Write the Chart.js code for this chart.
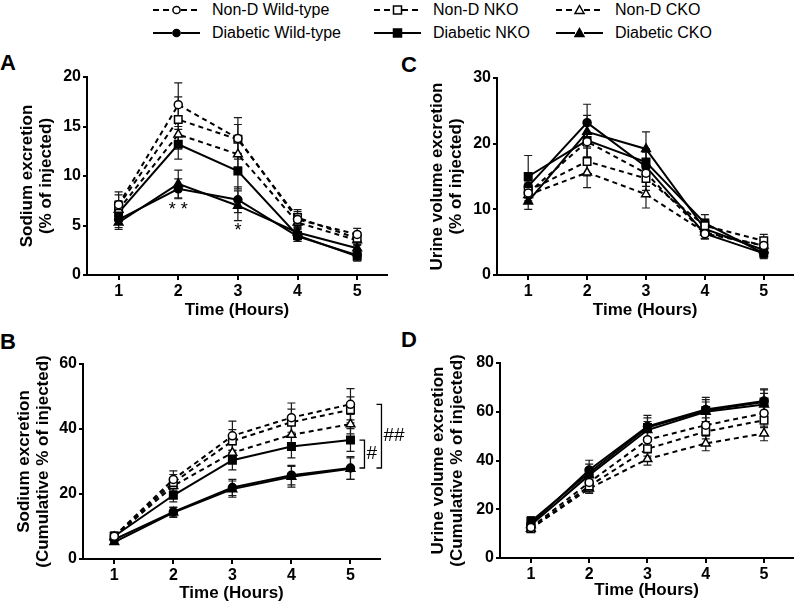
<!DOCTYPE html>
<html>
<head>
<meta charset="utf-8">
<script src="https://cdn.jsdelivr.net/npm/chart.js@4.4.1/dist/chart.umd.min.js"></script>
<style>
body{margin:0;background:#fff;width:800px;height:605px;position:relative;overflow:hidden;font-family:"Liberation Sans",Arial,sans-serif;color:#000;}
.panel{position:absolute;}
.letra{position:absolute;font-weight:bold;font-size:22px;line-height:22px;}
.ley{position:absolute;font-size:16px;line-height:20px;display:flex;align-items:center;white-space:nowrap;}
.ley svg{margin-right:12px;}
</style>
</head>
<body>
<div id="leyenda"></div>
<div class="letra" style="left:0;top:52px">A</div>
<div class="letra" style="left:401px;top:54px">C</div>
<div class="letra" style="left:0;top:331px">B</div>
<div class="letra" style="left:401px;top:329px">D</div>
<div class="panel" style="left:0;top:45px"><canvas id="graficoA" width="400" height="275"></canvas></div>
<div class="panel" style="left:400px;top:45px"><canvas id="graficoC" width="400" height="275"></canvas></div>
<div class="panel" style="left:0;top:320px"><canvas id="graficoB" width="420" height="285"></canvas></div>
<div class="panel" style="left:400px;top:320px"><canvas id="graficoD" width="400" height="285"></canvas></div>
<script>
// datos
const horas = [1, 2, 3, 4, 5];
const grupos = ['Non-D Wild-type', 'Non-D NKO', 'Non-D CKO', 'Diabetic Wild-type', 'Diabetic NKO', 'Diabetic CKO'];

// A: sodio por hora (% of injected) - media y EEM, mismo orden que grupos
const sodioHora = [
    [7.1, 17.2, 13.8, 5.6, 4.1],
    [7.0, 15.7, 13.7, 5.8, 3.7],
    [6.6, 14.2, 12.2, 5.3, 3.5],
    [5.6, 8.7, 7.6, 3.9, 2.0],
    [6.3, 13.2, 10.5, 4.0, 1.9],
    [5.3, 9.2, 7.0, 4.3, 2.7]
];
const sodioHoraEem = [
    [1.3, 2.2, 2.1, 0.8, 0.6],
    [1.1, 2.3, 1.5, 0.8, 0.6],
    [0.9, 1.5, 1.3, 0.6, 0.5],
    [0.8, 1.0, 1.3, 0.5, 0.4],
    [0.7, 1.5, 1.8, 0.6, 0.5],
    [0.7, 1.4, 1.5, 0.6, 0.4]
];

// B: sodio acumulado
const sodioAcum = [
    [7.0, 24.5, 37.9, 43.5, 47.6],
    [7.0, 23.5, 36.3, 42.1, 45.9],
    [6.8, 22.5, 32.7, 38.2, 41.5],
    [6.0, 14.5, 22.0, 25.8, 28.0],
    [7.0, 19.6, 30.4, 34.6, 36.6],
    [5.2, 14.3, 21.5, 25.3, 27.8]
];
const sodioAcumEem = [
    [1.3, 2.6, 4.5, 4.5, 4.8],
    [1.1, 2.5, 3.5, 4.0, 4.0],
    [0.9, 2.0, 2.5, 3.0, 3.0],
    [0.8, 1.5, 2.5, 3.0, 3.5],
    [0.7, 2.0, 3.0, 3.5, 3.5],
    [0.7, 1.5, 2.5, 3.2, 3.3]
];

// C: volumen de orina por hora
const orinaHora = [
    [12.5, 20.3, 15.5, 6.3, 4.5],
    [12.8, 17.3, 14.7, 7.5, 5.2],
    [12.2, 15.6, 12.3, 6.5, 4.5],
    [13.5, 23.2, 16.5, 6.3, 3.3],
    [15.0, 20.5, 17.2, 7.9, 3.3],
    [11.2, 21.8, 19.2, 7.0, 3.8]
];
const orinaHoraEem = [
    [1.5, 2.6, 2.0, 0.8, 0.8],
    [1.5, 2.2, 1.8, 1.0, 1.0],
    [1.3, 2.3, 2.1, 0.9, 0.8],
    [1.8, 2.8, 2.2, 0.8, 0.6],
    [3.2, 2.5, 2.0, 1.3, 0.8],
    [1.2, 2.5, 2.6, 1.0, 0.7]
];

// D: volumen de orina acumulado
const orinaAcum = [
    [12.5, 31.0, 48.5, 54.5, 59.4],
    [12.0, 29.5, 44.8, 51.9, 56.5],
    [12.0, 28.5, 40.6, 47.0, 51.1],
    [14.0, 36.1, 54.0, 60.9, 64.4],
    [15.0, 35.0, 53.5, 60.5, 64.0],
    [13.5, 34.0, 52.5, 60.0, 63.0]
];
const orinaAcumEem = [
    [1.5, 2.5, 3.5, 3.0, 3.5],
    [1.5, 2.5, 3.0, 3.0, 3.0],
    [1.3, 2.0, 2.5, 3.0, 3.0],
    [3.0, 4.0, 4.5, 5.0, 5.0],
    [2.0, 3.5, 4.0, 4.5, 5.0],
    [2.0, 3.0, 3.5, 4.0, 4.5]
];

// estilo de cada grupo
const formas = ['circle', 'rect', 'triangle', 'circle', 'rect', 'triangle'];
const radios = {circle: 4, rect: 5.3, triangle: 5};
const esNoDiabetico = (i) => i < 3;

//! leyenda en html
const leyenda = document.getElementById('leyenda');
const colX = [153, 374, 556];
const filaY = [0, 23];
grupos.forEach((nombre, i) => {
    const col = i % 3;
    const fila = Math.floor(i / 3);
    const relleno = esNoDiabetico(i) ? '#fff' : '#000';
    const raya = esNoDiabetico(i) ? 'stroke-dasharray="6 4"' : '';
    let marca = '';
    if (formas[i] == 'circle') {
        marca = `<circle cx="23.5" cy="7" r="3.6" fill="${relleno}" stroke="#000" stroke-width="1.5"/>`;
    } else if (formas[i] == 'rect') {
        marca = `<rect x="19.5" y="3" width="8" height="8" fill="${relleno}" stroke="#000" stroke-width="1.5"/>`;
    } else {
        marca = `<polygon points="23.5,2.5 28,10.5 19,10.5" fill="${relleno}" stroke="#000" stroke-width="1.5"/>`;
    }
    const div = document.createElement('div');
    div.className = 'ley';
    div.style.left = colX[col] + 'px';
    div.style.top = filaY[fila] + 'px';
    div.innerHTML = `<svg width="47" height="14">
        <line x1="0" y1="7" x2="19" y2="7" stroke="#000" stroke-width="2" ${raya}/>
        <line x1="28" y1="7" x2="47" y2="7" stroke="#000" stroke-width="2" ${raya}/>
        ${marca}</svg><span>${nombre}</span>`;
    leyenda.appendChild(div);
});

//! barras de error (media +- EEM)
const barrasError = {
    id: 'barrasError',
    beforeDatasetsDraw(chart) {
        const {ctx, scales: {x, y}} = chart;
        ctx.save();
        ctx.strokeStyle = '#1a1a1a';
        ctx.lineWidth = 1.2;
        chart.data.datasets.forEach((ds) => {
            ds.data.forEach((p, k) => {
                const e = ds.eem[k];
                const px = x.getPixelForValue(p.x);
                const arriba = y.getPixelForValue(p.y + e);
                const abajo = y.getPixelForValue(p.y - e);
                ctx.beginPath();
                ctx.moveTo(px, arriba); ctx.lineTo(px, abajo);
                ctx.moveTo(px - 4, arriba); ctx.lineTo(px + 4, arriba);
                ctx.moveTo(px - 4, abajo); ctx.lineTo(px + 4, abajo);
                ctx.stroke();
            });
        });
        ctx.restore();
    }
};

//* asteriscos y corchetes de significancia
const notas = {
    id: 'notas',
    afterDatasetsDraw(chart, args, opts) {
        const {ctx, scales: {x, y}} = chart;
        ctx.save();
        ctx.fillStyle = '#000';
        ctx.strokeStyle = '#000';
        (opts.textos || []).forEach((t) => {
            ctx.font = t.fuente;
            ctx.textAlign = 'center';
            ctx.textBaseline = 'middle';
            ctx.fillText(t.texto, x.getPixelForValue(t.x), y.getPixelForValue(t.y));
        });
        (opts.corchetes || []).forEach((c) => {
            const bx = x.getPixelForValue(c.x) + c.dx;
            const y1 = y.getPixelForValue(c.desde);
            const y2 = y.getPixelForValue(c.hasta);
            ctx.lineWidth = 1.3;
            ctx.beginPath();
            ctx.moveTo(bx - 5, y1); ctx.lineTo(bx, y1); ctx.lineTo(bx, y2); ctx.lineTo(bx - 5, y2);
            ctx.stroke();
            ctx.font = '19px "Liberation Sans", Arial';
            ctx.textAlign = 'left';
            ctx.textBaseline = 'middle';
            ctx.fillText(c.texto, bx + 2, (y1 + y2) / 2);
        });
        ctx.restore();
    }
};

const fuenteEje = {family: '"Liberation Sans", Arial', weight: 'bold', size: 16};
const fuenteTitulo = {family: '"Liberation Sans", Arial', weight: 'bold', size: 17, lineHeight: 1.13};
const mediaLinea = 17 * 1.13 / 2;

// caja: posicion del canvas; area: rectangulo de ejes en la pagina
function hacerGrafico(id, caja, area, valores, eem, yMax, paso, tituloY, tituloX1, notasPanel) {
    const datasets = [];
    for (let i = grupos.length - 1; i >= 0; i--) {
        datasets.push({
            label: grupos[i],
            data: horas.map((h, k) => ({x: h, y: valores[i][k]})),
            eem: eem[i],
            borderColor: '#000',
            borderWidth: 2,
            borderDash: esNoDiabetico(i) ? [5, 4] : [],
            pointStyle: formas[i],
            pointRadius: radios[formas[i]],
            pointBorderWidth: 1.5,
            pointBorderColor: '#000',
            pointBackgroundColor: esNoDiabetico(i) ? '#fff' : '#000',
            fill: false,
            tension: 0
        });
    }
    // los no diabeticos se dibujan despues (encima)
    datasets.reverse();

    const anchoY = area.left - caja.left;
    const altoX = caja.top + caja.h - area.bottom;
    return new Chart(document.getElementById(id), {
        type: 'line',
        data: {datasets: datasets},
        options: {
            responsive: false,
            animation: false,
            devicePixelRatio: 1,
            layout: {padding: {left: 0, top: area.top - caja.top, right: caja.left + caja.w - area.right, bottom: 0}},
            plugins: {
                legend: {display: false},
                tooltip: {enabled: false},
                notas: notasPanel
            },
            scales: {
                x: {
                    type: 'linear',
                    min: 0.47,
                    max: 5.5,
                    afterBuildTicks: (s) => { s.ticks = horas.map((h) => ({value: h})); },
                    afterFit: (s) => { s.height = altoX; },
                    ticks: {color: '#000', font: fuenteEje, padding: 2},
                    grid: {display: true, drawOnChartArea: false, drawTicks: true, tickLength: 5, color: '#000', lineWidth: 2},
                    border: {display: true, color: '#000', width: 2},
                    title: {display: true, text: 'Time (Hours)', color: '#000', font: fuenteTitulo,
                        padding: {top: 0, bottom: altoX - tituloX1 - mediaLinea}}
                },
                y: {
                    min: 0,
                    max: yMax,
                    afterFit: (s) => { s.width = anchoY; },
                    ticks: {stepSize: paso, color: '#000', font: fuenteEje, padding: 2},
                    grid: {display: true, drawOnChartArea: false, drawTicks: true, tickLength: 4, color: '#000', lineWidth: 2},
                    border: {display: true, color: '#000', width: 2},
                    title: {display: true, text: tituloY.textos, color: '#000', font: fuenteTitulo,
                        padding: {top: tituloY.x - mediaLinea, bottom: 0}}
                }
            }
        },
        plugins: [barrasError, notas]
    });
}

hacerGrafico('graficoA', {left: 0, top: 45, w: 400, h: 275}, {left: 87, top: 77, right: 387, bottom: 275},
    sodioHora, sodioHoraEem, 20, 5,
    {textos: ['Sodium excretion', '(% of injected)'], x: 27}, 35,
    {textos: [{texto: '* *', x: 2, y: 6.6, fuente: '18px "Liberation Sans", Arial'},
              {texto: '*', x: 3, y: 4.4, fuente: '18px "Liberation Sans", Arial'}]});

hacerGrafico('graficoC', {left: 400, top: 45, w: 400, h: 275}, {left: 497, top: 78, right: 798, bottom: 275},
    orinaHora, orinaHoraEem, 30, 10,
    {textos: ['Urine volume excretion', '(% of injected)'], x: 37}, 35, {});

hacerGrafico('graficoB', {left: 0, top: 320, w: 420, h: 285}, {left: 83, top: 364, right: 380, bottom: 559},
    sodioAcum, sodioAcumEem, 60, 20,
    {textos: ['Sodium excretion', '(Cumulative % of injected)'], x: 24}, 34,
    {corchetes: [{x: 5, dx: 14, desde: sodioAcum[4][4], hasta: sodioAcum[3][4], texto: '#'},
                 {x: 5, dx: 31, desde: sodioAcum[0][4], hasta: sodioAcum[3][4], texto: '##'}]});

hacerGrafico('graficoD', {left: 400, top: 320, w: 400, h: 285}, {left: 500, top: 363, right: 795, bottom: 558},
    orinaAcum, orinaAcumEem, 80, 20,
    {textos: ['Urine volume excretion', '(Cumulative % of injected)'], x: 38}, 32, {});
</script>
</body>
</html>
